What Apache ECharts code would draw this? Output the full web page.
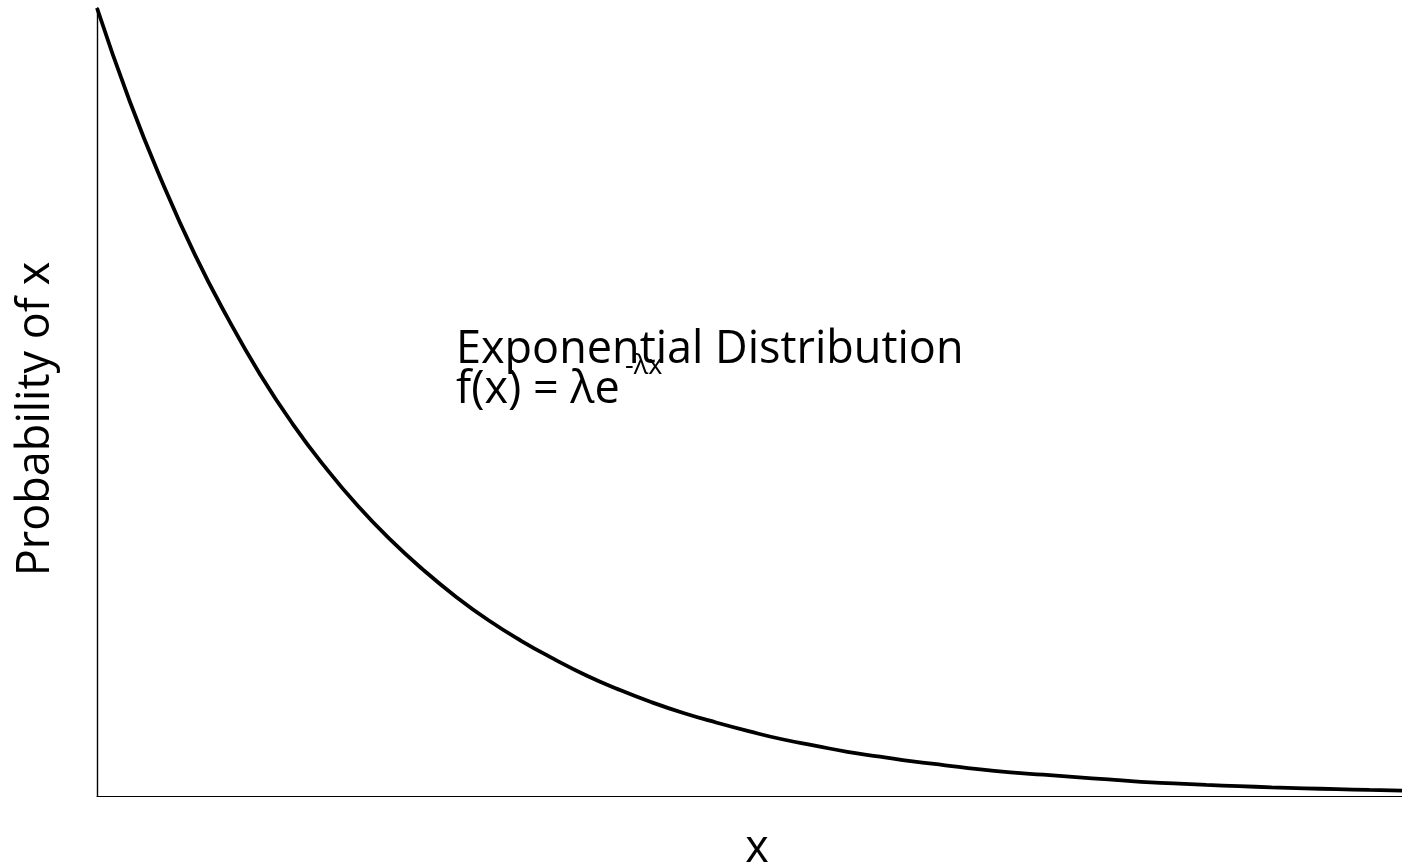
<!DOCTYPE html>
<html>
<head>
<meta charset="utf-8">
<script src="https://cdn.jsdelivr.net/npm/echarts@6/dist/echarts.min.js"></script>
<style>
html,body{margin:0;padding:0;background:#fff;}
#chart{width:1402px;height:868px;}
</style>
</head>
<body>
<div id="chart"></div>
<script>
// x values (arbitrary units) and probability values
const xValues = [0, 0.25, 0.5, 0.75, 1, 1.25, 1.5, 1.75, 2, 2.25, 2.5, 2.75, 3, 3.25, 3.5, 3.75, 4, 4.25, 4.5, 4.75, 5,
                 5.25, 5.5, 5.75, 6, 6.25, 6.5, 6.75, 7, 7.25, 7.5, 7.75, 8, 8.25, 8.5, 8.75, 9, 9.25, 9.5, 9.75, 10];
const yValues = [1.000, 0.882, 0.779, 0.687, 0.607, 0.535, 0.472, 0.417, 0.368, 0.325, 0.287, 0.253, 0.223, 0.197, 0.174, 0.153, 0.135, 0.119, 0.105, 0.093, 0.082,
                 0.072, 0.064, 0.056, 0.050, 0.044, 0.039, 0.034, 0.030, 0.027, 0.024, 0.021, 0.018, 0.016, 0.014, 0.0125, 0.011, 0.0098, 0.0087, 0.0077, 0.0068];
const xAxisName = 'x';
const yAxisName = 'Probability of x';
const titleLine1 = 'Exponential Distribution';
const formulaMain = 'f(x) = λe';
const formulaSup = '-λx';

const FONT = '"Open Sans", "Noto Sans", sans-serif';
const chart = echarts.init(document.getElementById('chart'));
chart.setOption({
  animation: false,
  backgroundColor: '#ffffff',
  grid: {left: 97, right: 0, top: 8, bottom: 72, containLabel: false, outerBoundsMode: 'none'},
  xAxis: {
    type: 'value', min: 0, max: 10,
    name: xAxisName, nameLocation: 'middle', nameGap: 31,
    nameTextStyle: {fontFamily: FONT, fontSize: 45, color: '#000', padding: [0, 0, 0, 15]},
    axisLine: {show: true, onZero: false, lineStyle: {color: '#000', width: 1.2}},
    axisTick: {show: false}, axisLabel: {show: false}, splitLine: {show: false}
  },
  yAxis: {
    type: 'value', min: 0, max: 1,
    name: yAxisName, nameLocation: 'middle', nameRotate: 90, nameGap: 38,
    nameTextStyle: {fontFamily: FONT, fontSize: 45, color: '#000', padding: [0, 34, 0, 0]},
    axisLine: {show: true, onZero: false, lineStyle: {color: '#000', width: 1.4}},
    axisTick: {show: false}, axisLabel: {show: false}, splitLine: {show: false}
  },
  series: [{
    type: 'line',
    data: xValues.map((x, i) => [x, yValues[i]]),
    smooth: true,
    showSymbol: false,
    lineStyle: {color: '#000', width: 3.8},
    clip: false
  }],
  graphic: [
    {type: 'text', left: 456, top: 328, style: {text: titleLine1, font: '45px ' + FONT, fill: '#000'}},
    {type: 'text', left: 456, top: 368, style: {text: formulaMain, font: '45px ' + FONT, fill: '#000'}},
    {type: 'text', left: 625, top: 353, style: {text: formulaSup, font: '27px ' + FONT, fill: '#000'}}
  ]
});
</script>
</body>
</html>
